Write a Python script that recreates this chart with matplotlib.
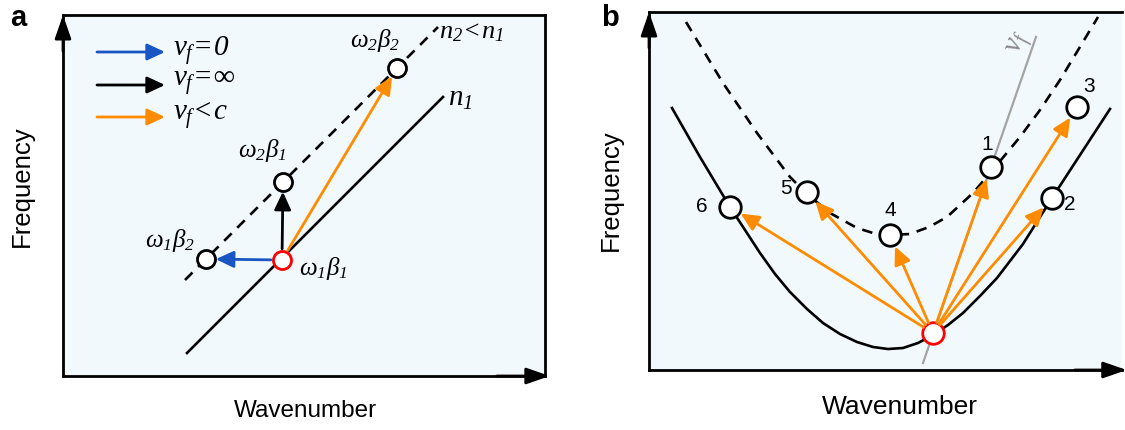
import numpy as np
import matplotlib.pyplot as plt

plt.rcParams['font.family'] = ['Liberation Sans', 'DejaVu Sans']
plt.rcParams['mathtext.fontset'] = 'custom'
plt.rcParams['mathtext.it'] = 'Liberation Serif:italic'
plt.rcParams['mathtext.rm'] = 'Liberation Serif:italic'
plt.rcParams['mathtext.fallback'] = 'stix'

bg = '#f2f9fd'
orange = '#ff8c00'
blue = '#1a55c4'
gray = '#a3a3a3'

# ---- panel a (wavenumber / frequency, arbitrary units)
n1_k = [124, 380]
n1_w = [23, 279]
n2_k = [122, 375]
n2_w = [96, 349]
a_src = (219, 116)                      # omega1 beta1
a_pts_k = [143, 220, 334]               # omega1beta2, omega2beta1, omega2beta2
a_pts_w = [117, 194, 308]
a_colors = [blue, 'black', orange]
a_labels = [r'$\omega_1\beta_2$', r'$\omega_2\beta_1$', r'$\omega_2\beta_2$']
a_lab_k = [107, 199, 312]
a_lab_w = [136, 226, 336]
legend_texts = [r'$v_f\!=\!0$', r'$v_f\!=\!\infty$', r'$v_f\!<\!c$']
legend_w = [324, 291, 259]

# ---- panel b
solid_k = [23, 51, 81, 111, 126, 141, 158, 174, 191, 208, 224, 239, 254, 269, 284,
           299, 314, 331, 348, 374, 403, 431, 461]
solid_w = [262, 213, 163, 117, 96, 78, 61, 47, 36, 28, 23, 21, 22, 27, 35,
           45, 57, 74, 92, 126, 172, 215, 261]
dash_k = [37, 74, 108, 141, 158, 181, 208, 224, 241, 261, 280, 298, 324, 342, 371, 391, 411, 449]
dash_w = [348, 287, 237, 193, 176, 157, 142, 137, 135, 136, 143, 153, 177, 198, 233, 260, 290, 353]
vf_k = [274, 387]
vf_w = [7, 333]
b_src = (284, 37)
b_pts_k = [342, 403, 428, 241, 158, 81]
b_pts_w = [203, 172, 263, 135, 178, 163]
b_nums = ['1', '2', '3', '4', '5', '6']
b_num_k = [338, 421, 440, 241, 137, 53]
b_num_w = [226, 166, 284, 159, 182, 164]


def arrow(ax, src, dst, color, sA=0, sB=0, lw=2.0, hl=0.9, hw=0.42, ms=12):
    ax.annotate('', xy=dst, xytext=src,
                arrowprops=dict(arrowstyle=f'-|>,head_length={hl},head_width={hw}',
                                color=color, lw=lw, shrinkA=sA, shrinkB=sB,
                                mutation_scale=ms))


def frame(ax, right=True):
    ax.set_facecolor(bg)
    ax.set_xticks([])
    ax.set_yticks([])
    for s in ax.spines.values():
        s.set_linewidth(2.0)
    if not right:
        ax.spines['right'].set_visible(False)
    # axis arrow heads
    ax.annotate('', xy=(0, 1), xytext=(0, 0.9), xycoords='axes fraction',
                arrowprops=dict(arrowstyle='-|>,head_length=1.3,head_width=0.45',
                                color='black', lw=2, shrinkA=0, shrinkB=0, mutation_scale=11))
    ax.annotate('', xy=(1.01, 0), xytext=(0.9, 0), xycoords='axes fraction',
                arrowprops=dict(arrowstyle='-|>,head_length=1.3,head_width=0.45',
                                color='black', lw=2, shrinkA=0, shrinkB=0, mutation_scale=11),
                annotation_clip=False)


fig = plt.figure(figsize=(11.25, 4.3), dpi=100)

# panel a
ax = fig.add_axes([63 / 1125, 54 / 430, 482 / 1125, 361 / 430])
ax.set_xlim(0, 482)
ax.set_ylim(0, 361)
frame(ax)
ax.plot(n1_k, n1_w, color='black', lw=1.9)
ax.plot(n2_k, n2_w, color='black', lw=1.9, dashes=(4, 3))
for k, w, c in zip(a_pts_k, a_pts_w, a_colors):
    arrow(ax, a_src, (k, w), c, sA=8, sB=7)
ax.plot(a_pts_k, a_pts_w, 'o', ms=13, mfc='white', mec='black', mew=2.0)
ax.plot(*a_src, 'o', ms=13, mfc='white', mec='red', mew=2.0)
for k, w, t in zip(a_lab_k, a_lab_w, a_labels):
    ax.text(k, w, t, fontsize=18, ha='center', va='center')
ax.text(236, 108, r'$\omega_1\beta_1$', fontsize=18, ha='left', va='center')
ax.text(385, 278, r'$n_1$', fontsize=21, ha='left', va='center')
ax.text(376, 344, r'$n_2\!<\!n_1$', fontsize=19, ha='left', va='center')
for w, c, t in zip(legend_w, a_colors, legend_texts):
    arrow(ax, (34, w), (102, w), c)
    ax.text(110, w + 2, t, fontsize=21, ha='left', va='center')

# panel b
bx = fig.add_axes([649 / 1125, 60 / 430, 473 / 1125, 358 / 430])
bx.set_xlim(0, 473)
bx.set_ylim(0, 358)
frame(bx, right=False)
bx.plot(vf_k, vf_w, color=gray, lw=1.6)
bx.plot(solid_k, solid_w, color='black', lw=1.9)
bx.plot(dash_k, dash_w, color='black', lw=1.9, dashes=(4, 3))
for k, w in zip(b_pts_k, b_pts_w):
    arrow(bx, b_src, (k, w), orange, sA=8, sB=9)
bx.plot(b_pts_k, b_pts_w, 'o', ms=15.5, mfc='white', mec='black', mew=2.0)
bx.plot(*b_src, 'o', ms=15.5, mfc='white', mec='red', mew=2.0)
for k, w, t in zip(b_num_k, b_num_w, b_nums):
    bx.text(k, w, t, fontsize=15, ha='center', va='center')
bx.text(371, 327, r'$v_f$', fontsize=21, color='#8a8a8a', rotation=71,
        ha='center', va='center')

# axis titles and panel letters
fig.text(305 / 1125, 1 - 411 / 430, 'Wavenumber', fontsize=17.5, ha='center', va='center')
fig.text(900 / 1125, 1 - 407 / 430, 'Wavenumber', fontsize=19, ha='center', va='center')
fig.text(22 / 1125, 1 - 186 / 430, 'Frequency', fontsize=18.5, rotation=90, ha='center', va='center')
fig.text(611 / 1125, 1 - 190 / 430, 'Frequency', fontsize=18.5, rotation=90, ha='center', va='center')
fig.text(18 / 1125, 1 - 18 / 430, 'a', fontsize=21, fontweight='bold', ha='center', va='center')
fig.text(610 / 1125, 1 - 18 / 430, 'b', fontsize=21, fontweight='bold', ha='center', va='center')

fig.savefig('out.png', dpi=100)
